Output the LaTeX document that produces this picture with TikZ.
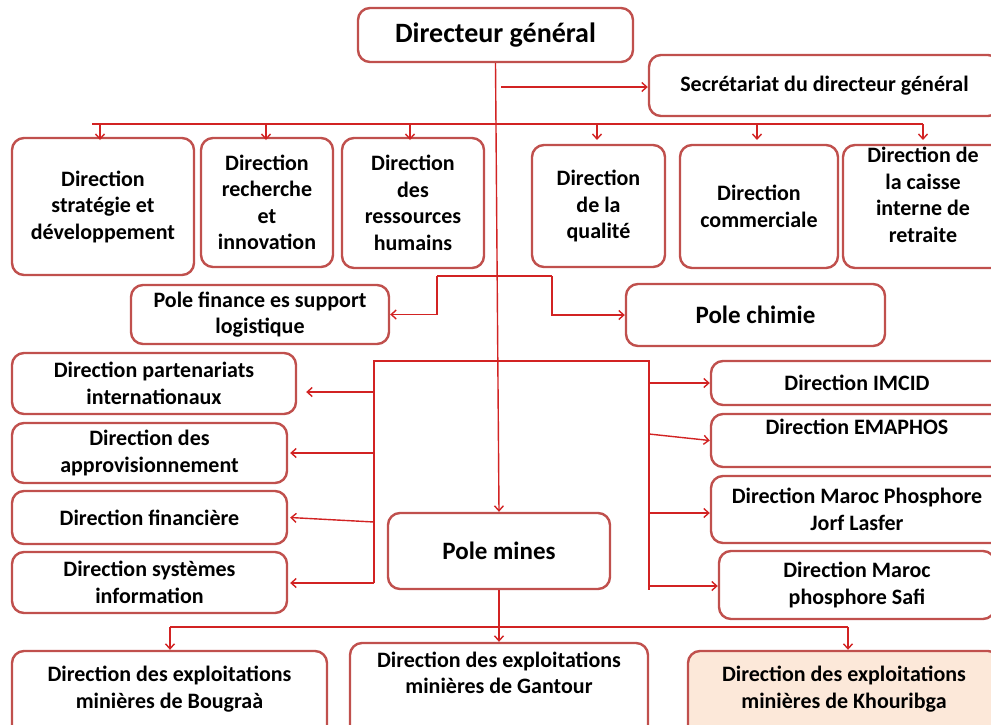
\documentclass[tikz,border=0pt]{standalone}
\usepackage{fontspec}
\setmainfont{Carlito}
\usetikzlibrary{arrows.meta}
\definecolor{boxred}{RGB}{192,80,77}
\definecolor{linkred}{RGB}{210,35,35}
\definecolor{peach}{RGB}{252,232,217}

\begin{document}
\begin{tikzpicture}[x=1pt,y=-1pt,
  unit/.style={draw=boxred, line width=2.4pt, rounded corners=12pt, fill=white,
    inner sep=0pt, align=center, font=\fontsize{22}{26.5}\selectfont\bfseries},
  lbl/.style={inner sep=0pt, align=center, font=\fontsize{22}{26.5}\selectfont\bfseries},
  big/.style={font=\fontsize{25}{30}\selectfont\bfseries},
  link/.style={draw=linkred, line width=1.4pt},
  arr/.style={link, -{Straight Barb[length=5pt,width=9pt]}},
]
\useasboundingbox (0,0) rectangle (991,724);
\clip (0,0) rectangle (991,724);

% ---- top ----
\node[unit, minimum width=275pt, minimum height=54pt, font=\fontsize{28}{32}\selectfont\bfseries]
  (dg) at (495.5,35) {Directeur général};
\node[unit, minimum width=351pt, minimum height=61pt] (sec) at (824.5,85.5)
  {Secrétariat du directeur général};

% ---- first row of directions ----
\node[unit, minimum width=182pt, minimum height=137pt] (strat) at (103,206.5)
  {Direction\\stratégie et\\développement};
\node[unit, minimum width=132pt, minimum height=129pt] (rech) at (267,202.5)
  {Direction\\recherche\\et\\innovation};
\node[unit, minimum width=142pt, minimum height=130pt] (rh) at (413,203)
  {Direction\\des\\ressources\\humains};
\node[unit, minimum width=133pt, minimum height=122pt] (qual) at (598.5,206)
  {Direction\\de la\\qualité};
\node[unit, minimum width=158pt, minimum height=123pt] (comm) at (759,206.5)
  {Direction\\commerciale};
\node[unit, minimum width=160pt, minimum height=123pt] (cirt) at (923,206.5) {};
\node[lbl] (cirttxt) at (923,195) {Direction de\\la caisse\\interne de\\retraite};

% ---- poles ----
\node[unit, minimum width=258pt, minimum height=59pt] (pfin) at (260,314.5)
  {Pole finance es support\\logistique};
\node[unit, big, minimum width=259pt, minimum height=62pt] (pchim) at (755.5,315)
  {Pole chimie};
\node[unit, big, minimum width=222pt, minimum height=76pt] (pmin) at (499,551)
  {Pole mines};

% ---- left column ----
\node[unit, minimum width=284pt, minimum height=61pt] (part) at (154,383.5)
  {Direction partenariats\\internationaux};
\node[unit, minimum width=275pt, minimum height=60pt] (appro) at (149.5,453)
  {Direction des\\approvisionnement};
\node[unit, minimum width=275pt, minimum height=53pt] (fin) at (149.5,517.5)
  {Direction financière};
\node[unit, minimum width=275pt, minimum height=61pt] (si) at (149.5,582.5)
  {Direction systèmes\\information};

% ---- right column ----
\node[unit, minimum width=292pt, minimum height=44pt] (imcid) at (857,383)
  {Direction IMCID};
\node[unit, minimum width=292pt, minimum height=53pt] (ema) at (857,440.5) {};
\node[lbl] (ematxt) at (857,427) {Direction EMAPHOS};
\node[unit, minimum width=292pt, minimum height=67pt] (jorf) at (857,509.5)
  {Direction Maroc Phosphore\\Jorf Lasfer};
\node[unit, minimum width=276pt, minimum height=68pt] (safi) at (857,585)
  {Direction Maroc\\phosphore Safi};

% ---- mining operations ----
\node[unit, minimum width=315pt, minimum height=89pt] (boug) at (169.5,695.5) {};
\node[lbl] (bougtxt) at (169.5,689) {Direction des exploitations\\minières de Bougraà};
\node[unit, minimum width=298pt, minimum height=97pt] (gant) at (499,691.5) {};
\node[lbl] (ganttxt) at (499,673) {Direction des exploitations\\minières de Gantour};
\node[unit, fill=peach, minimum width=312pt, minimum height=89pt] (khou) at (844,695.5) {};
\node[lbl] (khoutxt) at (844,689) {Direction des exploitations\\minières de Khouribga};

% ---- connectors ----
\draw[arr] (dg.south) -- (pmin.north);
\coordinate (secfrom) at (501,87);
\draw[arr] (secfrom) -- (sec.west |- secfrom);

% bus feeding the first row
\coordinate (busL) at (92,124);
\coordinate (busR) at (923,124);
\draw[link] (busL) -- (busR);
\foreach \b/\x in {strat/100, rech/266, rh/410, qual/597, comm/757, cirt/923}
  \draw[arr] (\x,124) -- (\x,140);

% bracket towards the two poles
\coordinate (pl) at (437,276);
\coordinate (pr) at (552,276);
\draw[link] (pl) -- (pr);
\draw[arr] (pl) -- (pl |- pfin.east) -- (pfin.east);
\draw[arr] (pr) -- (pr |- pchim.west) -- (pchim.west);

% support directions on the left, chemical sites on the right
\coordinate (ltop) at (374,361);
\coordinate (rtop) at (649,361);
\draw[link] (374,583) -- (ltop) -- (rtop) -- (649,590);
\coordinate (lb1) at (374,392);
\coordinate (lb2) at (374,453);
\coordinate (lb3) at (374,522);
\coordinate (lb4) at (374,583);
\draw[arr] (lb1) -- ([xshift=9pt]part.east |- lb1);
\draw[arr] (lb2) -- ([xshift=2pt]appro.east |- lb2);
\draw[arr] (lb3) -- ([xshift=2pt]fin.east);
\draw[arr] (lb4) -- ([xshift=2pt]si.east |- lb4);
\coordinate (rb1) at (649,383);
\coordinate (rb2) at (649,434);
\coordinate (rb3) at (649,513);
\coordinate (rb4) at (649,586);
\draw[arr] (rb1) -- (imcid.west |- rb1);
\draw[arr] (rb2) -- (ema.west);
\draw[arr] (rb3) -- (jorf.west |- rb3);
\draw[arr] (rb4) -- (safi.west |- rb4);

% mining branch
\coordinate (mbL) at (170,627);
\coordinate (mbR) at (848,627);
\draw[link] (mbL) -- (mbR);
\draw[arr] (pmin.south) -- (gant.north);
\draw[arr] (mbL) -- (mbL |- boug.north);
\draw[arr] (mbR) -- (mbR |- khou.north);
\end{tikzpicture}
\end{document}
